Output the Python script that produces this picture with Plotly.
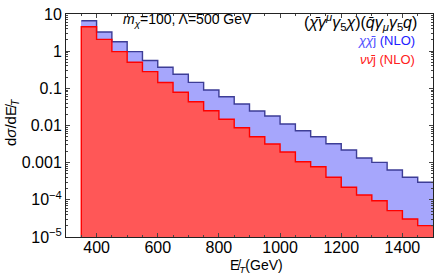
import plotly.graph_objects as go
import numpy as np

# Bin edges (GeV) and histogram values
bin_edges = list(range(350, 1501, 50))
chi_nlo = [6.6, 3.28, 1.80, 0.97, 0.561, 0.368, 0.239, 0.145, 0.0902, 0.0596,
           0.0379, 0.0246, 0.0180, 0.0110, 0.00725, 0.00500, 0.00324, 0.00219,
           0.00134, 0.00102, 0.000635, 0.000404, 0.000297]
nu_nlo = [4.55, 2.08, 0.97, 0.502, 0.281, 0.1435, 0.0782, 0.0437, 0.0250, 0.0147,
          0.00873, 0.00500, 0.00318, 0.00194, 0.00106, 0.00078, 0.000404, 0.000218,
          0.000135, 0.0000948, 0.0000511, 0.0000305, 0.0000202]

x_range = [300, 1500]
y_log_range = [-5, 1]
x_tickvals = [400, 600, 800, 1000, 1200, 1400]
y_tickvals = [10, 1, 0.1, 0.01, 0.001, 1e-4, 1e-5]
y_ticktext = ["10", "1", "0.1", "0.01", "0.001", "10<sup>−4</sup>", "10<sup>−5</sup>"]

binw = bin_edges[1] - bin_edges[0]
left = bin_edges[:-1]

BLUE_FILL = "#a6a6fc"
BLUE_EDGE = "#3d3d96"
RED_FILL = "#ff5757"
RED_EDGE = "#ff0000"

fig = go.Figure()
fig.add_trace(go.Bar(x=left, y=chi_nlo, width=binw, offset=0,
                     marker=dict(color=BLUE_FILL, line=dict(width=0)), showlegend=False))
fig.add_trace(go.Scatter(x=bin_edges, y=chi_nlo + [chi_nlo[-1]], mode="lines",
                         line=dict(color=BLUE_EDGE, width=1.4, shape="hv"), showlegend=False))
fig.add_trace(go.Bar(x=left, y=nu_nlo, width=binw, offset=0,
                     marker=dict(color=RED_FILL, line=dict(width=0)), showlegend=False))
ymin = 10 ** (y_log_range[0] - 1)
fig.add_trace(go.Scatter(x=[bin_edges[0]] + bin_edges, y=[ymin] + nu_nlo + [nu_nlo[-1]], mode="lines",
                         line=dict(color=RED_EDGE, width=1.4, shape="hv"), showlegend=False))

FONT = "Liberation Sans, Arial, sans-serif"
axis_common = dict(showline=True, linecolor="#222", linewidth=1, mirror="allticks",
                   ticks="inside", tickcolor="#444", showgrid=False, zeroline=False,
                   automargin=False,
                   tickfont=dict(size=16, color="black", family=FONT))

fig.update_layout(
    width=436, height=276,
    margin=dict(l=66, r=3, t=14, b=39, pad=0),
    paper_bgcolor="white", plot_bgcolor="white",
    barmode="overlay", bargap=0,
    font=dict(family=FONT, color="black"),
    xaxis=dict(range=x_range, tickvals=x_tickvals, ticklen=4, ticklabelstandoff=-4,
               minor=dict(ticks="inside", ticklen=2, dtick=50, tickcolor="#444"),
               **axis_common),
    yaxis=dict(type="log", range=y_log_range, tickvals=y_tickvals, ticktext=y_ticktext,
               ticklen=4, minor=dict(ticks="inside", ticklen=2, dtick="D1", tickcolor="#444"),
               **axis_common),
)

fig.add_annotation(x=0.150, y=0.973, xref="paper", yref="paper", xanchor="left", yanchor="middle",
                   text="<i>m</i><sub><i>χ</i></sub>=100, Λ=500 GeV", showarrow=False,
                   font=dict(size=14, color="black"))
fig.add_annotation(x=0.963, y=0.965, xref="paper", yref="paper", xanchor="right", yanchor="middle",
                   text="(<i>χ̄γ</i><sup><i>μ</i></sup><i>γ</i><sub>5</sub><i>χ</i>)(<i>q̄γ</i><sub><i>μ</i></sub><i>γ</i><sub>5</sub><i>q</i>)",
                   showarrow=False, font=dict(size=16, color="black"))
fig.add_annotation(x=0.957, y=0.880, xref="paper", yref="paper", xanchor="right", yanchor="middle",
                   text="<span style='color:#5050ff'><i>χχ̄</i>j</span> (NLO)", showarrow=False,
                   font=dict(size=13, color="#2020ff"))
fig.add_annotation(x=0.957, y=0.794, xref="paper", yref="paper", xanchor="right", yanchor="middle",
                   text="<i>νν̄</i>j (NLO)", showarrow=False,
                   font=dict(size=13, color="#ff2020"))
fig.add_annotation(x=-0.147, y=0.516, xref="paper", yref="paper", xanchor="center", yanchor="middle",
                   text="d<i>σ</i>/dE̸<sub><i>T</i></sub>", textangle=-90, showarrow=False,
                   font=dict(size=15, color="black"))
fig.add_annotation(x=0.518, y=-0.128, xref="paper", yref="paper", xanchor="center", yanchor="middle",
                   text="E̸<sub><i>T</i></sub>(GeV)", showarrow=False,
                   font=dict(size=14, color="black"))

fig.write_html("out.html", config={"displayModeBar": False},
               post_script="document.body.style.margin='0';document.body.style.padding='0';")
